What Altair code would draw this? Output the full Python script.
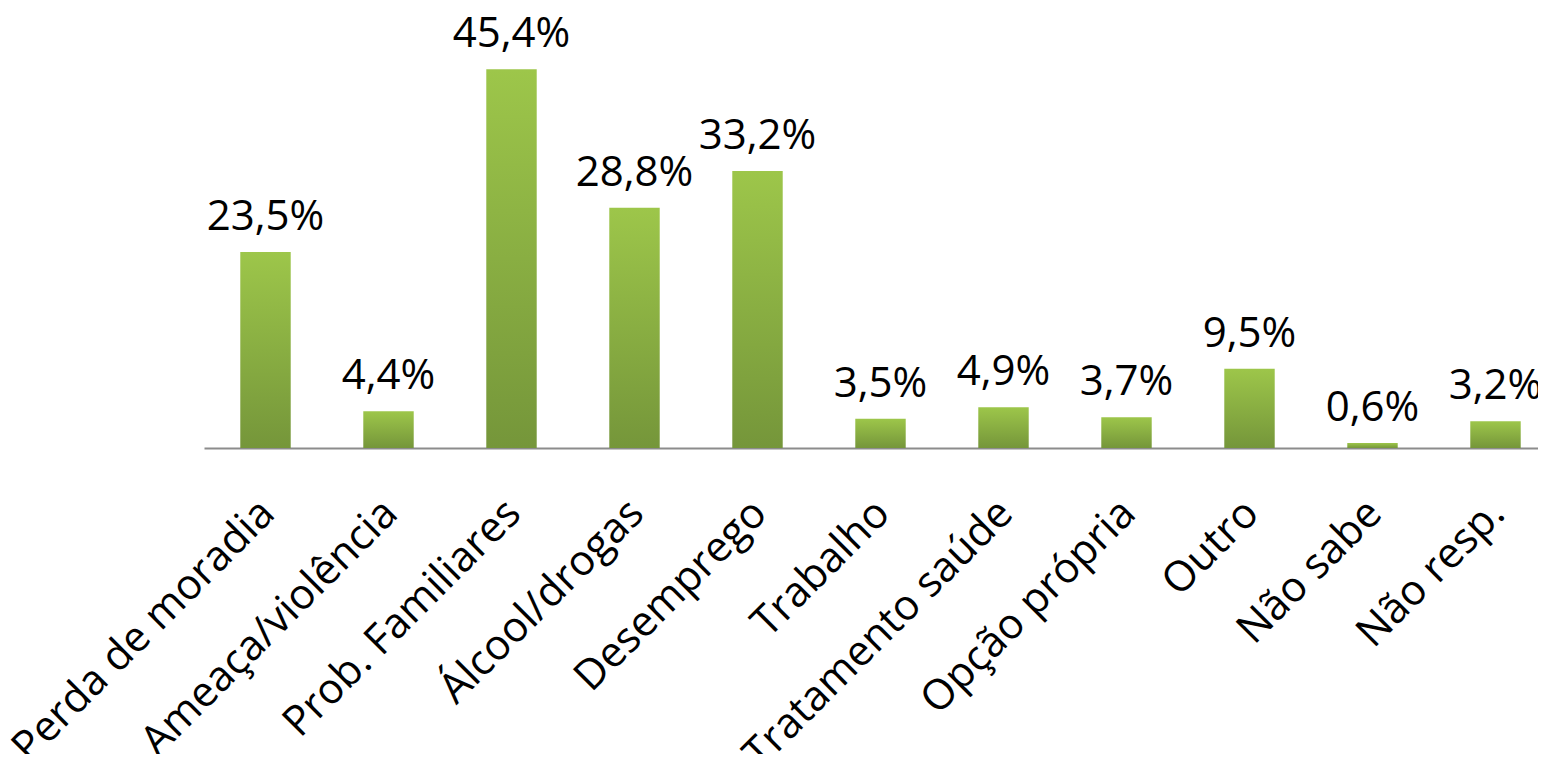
import altair as alt
import pandas as pd

categories = ["Perda de moradia", "Ameaça/violência", "Prob. Familiares", "Álcool/drogas",
              "Desemprego", "Trabalho", "Tratamento saúde", "Opção própria", "Outro",
              "Não sabe", "Não resp."]
values = [23.5, 4.4, 45.4, 28.8, 33.2, 3.5, 4.9, 3.7, 9.5, 0.6, 3.2]

df = pd.DataFrame({"cat": categories, "val": values})
df["label"] = [f"{v:.1f}%".replace(".", ",") for v in values]

FONT = "Open Sans"

x = alt.X("cat:N", sort=categories, title=None,
          scale=alt.Scale(range=[0, 1353], paddingInner=0.59, paddingOuter=0.295),
          axis=alt.Axis(labelAngle=-45, labelFont=FONT, labelFontSize=42, labelColor="black",
                        labelPadding=44, labelOffset=-12, ticks=False,
                        domainColor="#8c8c8c", domainWidth=2,
                        labelOverlap=False, labelLimit=1000))
y = alt.Y("val:Q", scale=alt.Scale(domain=[0, 50]), axis=None)

grad = alt.LinearGradient(gradient="linear", x1=0, x2=0, y1=0, y2=1,
                          stops=[alt.GradientStop(color="#9dc64a", offset=0),
                                 alt.GradientStop(color="#75963a", offset=1)])

bars = alt.Chart(df).mark_bar(color=grad).encode(x=x, y=y)
text = alt.Chart(df).mark_text(font=FONT, fontSize=42, color="black", dy=-22,
                               baseline="alphabetic").encode(x=x, y=y, text="label:N")

chart = (bars + text).properties(
    width=1334, height=417,
    autosize=alt.AutoSizeParams(type="none"),
    padding={"left": 196, "top": 23, "right": 0, "bottom": 306},
).configure(background="white").configure_view(stroke=None)

chart.save("out.html", embed_options={"renderer": "svg", "actions": False})
